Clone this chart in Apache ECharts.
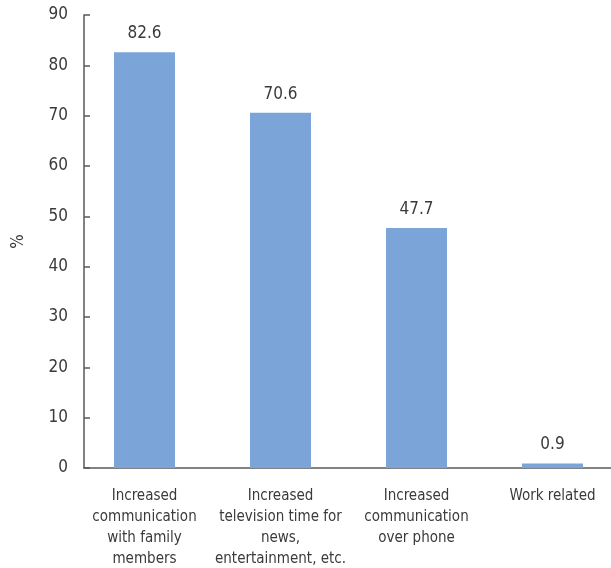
<!DOCTYPE html>
<html>
<head>
<meta charset="utf-8">
<script src="https://cdn.jsdelivr.net/npm/echarts@6/dist/echarts.min.js"></script>
<style>
  html, body { margin: 0; padding: 0; background: #fff; }
  #chart { width: 611px; height: 568px; }
</style>
</head>
<body>
<div id="chart"></div>
<script>
// Reported changes in daily activity (%)
const categories = [
  'Increased\ncommunication\nwith family\nmembers',
  'Increased\ntelevision time for\nnews,\nentertainment, etc.',
  'Increased\ncommunication\nover phone',
  'Work related'
];
const values = [82.6, 70.6, 47.7, 0.9];
const yTicks = { min: 0, max: 90, interval: 10 };

const FONT = '"DejaVu Sans Condensed", "Liberation Sans Narrow", Roboto, sans-serif';
const TEXT = '#3a3a3a';
const AXIS = '#595959';

const chart = echarts.init(document.getElementById('chart'), null, { renderer: 'canvas' });

chart.setOption({
  animation: false,
  backgroundColor: '#ffffff',
  textStyle: { fontFamily: FONT, color: TEXT },
  grid: [
    // bar area: category bands
    { left: 76.5, right: -9.5, top: 15, bottom: 100, containLabel: false, outerBoundsMode: 'none' },
    // frame area: visible axes
    { left: 84, right: 0, top: 15, bottom: 100, containLabel: false, outerBoundsMode: 'none' }
  ],
  xAxis: [
    {
      gridIndex: 0,
      type: 'category',
      data: categories,
      axisLine: { show: false },
      axisTick: { show: false },
      axisLabel: {
        interval: 0,
        margin: 18,
        fontFamily: FONT,
        fontSize: 15,
        lineHeight: 21,
        color: TEXT,
        align: 'center'
      }
    },
    {
      gridIndex: 1,
      type: 'value',
      min: 0,
      max: 1,
      axisLine: { show: true, lineStyle: { color: AXIS, width: 1.5 } },
      axisTick: { show: false },
      axisLabel: { show: false },
      splitLine: { show: false }
    }
  ],
  yAxis: [
    {
      gridIndex: 0,
      type: 'value',
      min: yTicks.min,
      max: yTicks.max,
      interval: yTicks.interval,
      show: false
    },
    {
      gridIndex: 1,
      type: 'value',
      min: yTicks.min,
      max: yTicks.max,
      interval: yTicks.interval,
      name: '%',
      nameLocation: 'middle',
      nameGap: 57,
      nameRotate: 90,
      nameTextStyle: { fontFamily: FONT, fontSize: 17, color: TEXT },
      axisLine: { show: true, lineStyle: { color: AXIS, width: 1.5 } },
      axisTick: { show: true, inside: true, length: 6, lineStyle: { color: AXIS, width: 1.5 } },
      axisLabel: { margin: 16, fontFamily: FONT, fontSize: 17, color: TEXT },
      splitLine: { show: false }
    }
  ],
  series: [
    {
      type: 'bar',
      xAxisIndex: 0,
      yAxisIndex: 0,
      data: values,
      barWidth: 61,
      itemStyle: { color: '#7ba5d9' },
      label: {
        show: true,
        position: 'top',
        distance: 10,
        fontFamily: FONT,
        fontSize: 17,
        color: TEXT,
        formatter: p => p.value.toFixed(1)
      }
    }
  ]
});
</script>
</body>
</html>
